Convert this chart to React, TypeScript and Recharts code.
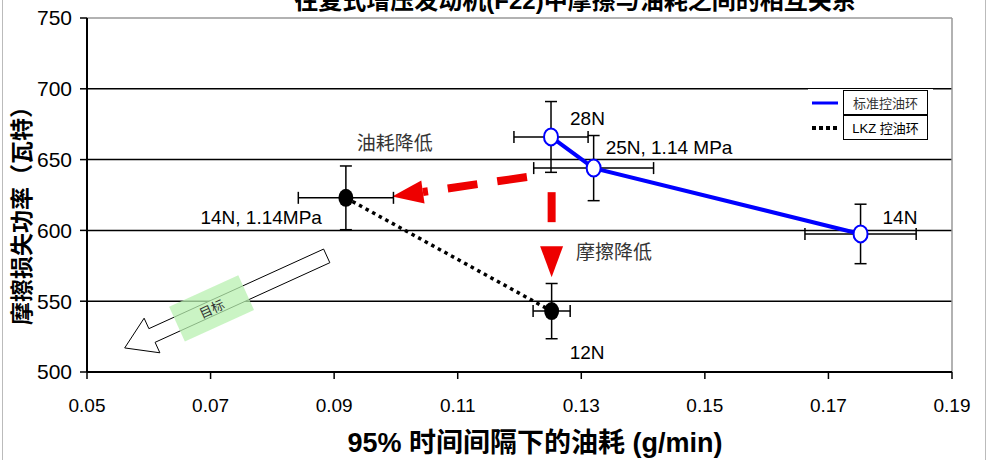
import {
  CartesianGrid,
  ErrorBar,
  Label,
  Legend,
  ReferenceDot,
  ReferenceLine,
  Scatter,
  ScatterChart,
  XAxis,
  YAxis,
} from 'recharts';

const TITLE = '往复式增压发动机(F22)中摩擦与油耗之间的相互关系';
const X_LABEL = '95% 时间间隔下的油耗 (g/min)';
const Y_LABEL = '摩擦损失功率（瓦特）';

const xTicks = [0.05, 0.07, 0.09, 0.11, 0.13, 0.15, 0.17, 0.19];
const yTicks = [500, 550, 600, 650, 700, 750];

// 标准控油环
const stdX = [0.1251, 0.132, 0.1752];
const stdY = [666, 644, 597.5];
const stdXErr = [0.006, 0.0097, 0.009];
const stdYErr = [25, 23, 21];
const stdNames = ['28N', '25N, 1.14 MPa', '14N'];

// LKZ 控油环
const lkzX = [0.0919, 0.1252];
const lkzY = [623, 543];
const lkzXErr = [0.0077, 0.003];
const lkzYErr = [22.5, 19.5];
const lkzNames = ['14N, 1.14MPa', '12N'];

// annotation arrows (data coords)
const oilArrow = [
  { x: 0.1212, y: 637.7 },
  { x: 0.0994, y: 624 },
];
const frictionArrow = [
  { x: 0.1252, y: 627 },
  { x: 0.1252, y: 567 },
];
const targetArrow = [
  { x: 0.0888, y: 582 },
  { x: 0.0561, y: 517 },
];
const notes = [
  { x: 0.0998, y: 661.7, text: '油耗降低' },
  { x: 0.1353, y: 584.7, text: '摩擦降低' },
];

const std = stdX.map((x, i) => ({ x, y: stdY[i], ex: stdXErr[i], ey: stdYErr[i], name: stdNames[i] }));
const lkz = lkzX.map((x, i) => ({ x, y: lkzY[i], ex: lkzXErr[i], ey: lkzYErr[i], name: lkzNames[i] }));

const FONT = '"Liberation Sans", Arial, "Noto Sans CJK SC", sans-serif';

// where each point label sits relative to its marker
const labelPos: Record<string, { dx: number; dy: number; anchor: 'start' | 'end' }> = {
  '28N': { dx: 19, dy: -18, anchor: 'start' },
  '25N, 1.14 MPa': { dx: 12, dy: -21, anchor: 'start' },
  '14N': { dx: 22, dy: -16, anchor: 'start' },
  '14N, 1.14MPa': { dx: -24, dy: 20, anchor: 'end' },
  '12N': { dx: 18, dy: 41, anchor: 'start' },
};

function PointLabel({ cx, cy, name }: { cx: number; cy: number; name: string }) {
  const p = labelPos[name];
  return (
    <text x={cx + p.dx} y={cy + p.dy} textAnchor={p.anchor} dominantBaseline="central" fontSize={19} fontFamily={FONT} fill="#000">
      {name}
    </text>
  );
}

function OpenDot(props: any) {
  const { cx, cy, payload } = props;
  return (
    <g>
      <ellipse cx={cx} cy={cy} rx={7} ry={8.5} fill="#fff" stroke="#0000ff" strokeWidth={2} />
      <PointLabel cx={cx} cy={cy} name={payload.name} />
    </g>
  );
}

function FilledDot(props: any) {
  const { cx, cy, payload } = props;
  return (
    <g>
      <ellipse cx={cx} cy={cy} rx={7.5} ry={9} fill="#000" />
      <PointLabel cx={cx} cy={cy} name={payload.name} />
    </g>
  );
}

function redArrow(dash: string) {
  return (props: any) => {
    const { x1, y1, x2, y2 } = props;
    const len = Math.hypot(x2 - x1, y2 - y1);
    const ux = (x2 - x1) / len;
    const uy = (y2 - y1) / len;
    const head = 31;
    const half = 11.5;
    const bx = x2 - ux * head;
    const by = y2 - uy * head;
    const pts = `${x2},${y2} ${bx - uy * half},${by + ux * half} ${bx + uy * half},${by - ux * half}`;
    return (
      <g>
        <line x1={x1} y1={y1} x2={bx} y2={by} stroke="#ee0000" strokeWidth={8} strokeDasharray={dash} />
        <polygon points={pts} fill="#ee0000" />
      </g>
    );
  };
}

function hollowArrow(props: any) {
  const { x1, y1, x2, y2 } = props;
  const len = Math.hypot(x2 - x1, y2 - y1);
  const ux = (x2 - x1) / len;
  const uy = (y2 - y1) / len;
  const nx = -uy;
  const ny = ux;
  const head = 30;
  const shaft = 7.5;
  const wing = 19;
  const bx = x2 - ux * head;
  const by = y2 - uy * head;
  const p = (x: number, y: number) => `${x},${y}`;
  const pts = [
    p(x1 + nx * shaft, y1 + ny * shaft),
    p(bx + nx * shaft, by + ny * shaft),
    p(bx + nx * wing, by + ny * wing),
    p(x2, y2),
    p(bx - nx * wing, by - ny * wing),
    p(bx - nx * shaft, by - ny * shaft),
    p(x1 - nx * shaft, y1 - ny * shaft),
  ].join(' ');
  const mx = x1 + (x2 - x1) * 0.57;
  const my = y1 + (y2 - y1) * 0.57;
  const angle = (Math.atan2(y1 - y2, x1 - x2) * 180) / Math.PI;
  return (
    <g>
      <polygon points={pts} fill="#fff" stroke="#000" strokeWidth={1} />
      <g transform={`translate(${mx},${my}) rotate(${angle})`}>
        <rect x={-38} y={-19} width={76} height={38} fill="#b8f0b0" opacity={0.75} />
        <text x={0} y={1} textAnchor="middle" dominantBaseline="central" fontSize={13} fontFamily={FONT} fill="#333">
          目标
        </text>
      </g>
    </g>
  );
}

function NoteText(text: string) {
  return (props: any) => (
    <text x={props.cx} y={props.cy} textAnchor="middle" dominantBaseline="central" fontSize={19} fontFamily={FONT} fill="#333">
      {text}
    </text>
  );
}

function LegendBox() {
  const row = (label: string, marker: React.ReactNode, color: string) => (
    <div style={{ display: 'flex', alignItems: 'center', height: 25 }}>
      <svg width={35} height={25}>{marker}</svg>
      <div
        style={{
          width: 83,
          height: 23,
          border: '1px solid #000',
          marginTop: -1,
          display: 'flex',
          alignItems: 'center',
          justifyContent: 'center',
          fontSize: 13,
          color,
          fontFamily: FONT,
        }}
      >
        {label}
      </div>
    </div>
  );
  return (
    <div style={{ background: '#fff', paddingTop: 1 }}>
      {row('标准控油环', <line x1={4} y1={13} x2={30} y2={13} stroke="#0000ff" strokeWidth={3} />, '#333')}
      {row('LKZ 控油环', <line x1={4} y1={13} x2={30} y2={13} stroke="#000" strokeWidth={4} strokeDasharray="4 3" />, '#000')}
    </div>
  );
}

export default function App() {
  return (
    <div style={{ position: 'absolute', left: 0, top: 0, width: 993, height: 460, background: '#fff', overflow: 'hidden' }}>
      <div
        style={{
          position: 'absolute',
          left: 0,
          width: 1150,
          top: -19,
          textAlign: 'center',
          fontSize: 24,
          fontWeight: 'bold',
          fontFamily: FONT,
          whiteSpace: 'nowrap',
        }}
      >
        {TITLE}
      </div>
      <ScatterChart width={993} height={460} margin={{ top: 18, right: 41, bottom: 0, left: 0 }}>
        <CartesianGrid vertical={false} horizontalValues={[550, 600, 650, 700]} stroke="#000" strokeWidth={1.5} />
        <ReferenceLine y={750} stroke="#999" strokeWidth={1.5} />
        <ReferenceLine x={0.19} stroke="#999" strokeWidth={1.5} />
        <XAxis
          type="number"
          dataKey="x"
          domain={[0.05, 0.19]}
          ticks={xTicks}
          tickFormatter={(v) => v.toFixed(2)}
          height={88}
          tickSize={7}
          tickMargin={20}
          axisLine={{ stroke: '#000', strokeWidth: 2 }}
          tickLine={{ stroke: '#000', strokeWidth: 1.5 }}
          tick={{ fill: '#000', fontSize: 19, fontFamily: FONT }}
          allowDataOverflow
        >
          <Label
            content={() => (
              <text x={535} y={443} textAnchor="middle" dominantBaseline="central" fontSize={27} fontWeight="bold" fontFamily={FONT} fill="#000">
                {X_LABEL}
              </text>
            )}
          />
        </XAxis>
        <YAxis
          type="number"
          dataKey="y"
          domain={[500, 750]}
          ticks={yTicks}
          width={87}
          tickSize={7}
          tickMargin={8}
          axisLine={{ stroke: '#000', strokeWidth: 2 }}
          tickLine={{ stroke: '#000', strokeWidth: 1.5 }}
          tick={{ fill: '#000', fontSize: 21, fontFamily: FONT }}
          allowDataOverflow
        >
          <Label
            content={() => (
              <text
                x={22}
                y={210}
                transform="rotate(-90 22 210)"
                textAnchor="middle"
                dominantBaseline="central"
                fontSize={23}
                fontWeight="bold"
                fontFamily={FONT}
                fill="#000"
              >
                {Y_LABEL}
              </text>
            )}
          />
        </YAxis>
        <ReferenceLine segment={targetArrow} shape={hollowArrow} />
        <ReferenceLine segment={oilArrow} shape={redArrow('30 20')} />
        <ReferenceLine segment={frictionArrow} shape={redArrow('30 25')} />
        {notes.map((n) => (
          <ReferenceDot key={n.text} x={n.x} y={n.y} r={0} shape={NoteText(n.text)} />
        ))}
        <Scatter
          name="LKZ 控油环"
          data={lkz}
          line={{ stroke: '#000', strokeWidth: 3.5, strokeDasharray: '3.5 4' }}
          shape={FilledDot}
          isAnimationActive={false}
        >
          <ErrorBar dataKey="ex" direction="x" width={6} stroke="#000" strokeWidth={1.5} />
          <ErrorBar dataKey="ey" direction="y" width={6} stroke="#000" strokeWidth={1.5} />
        </Scatter>
        <Scatter
          name="标准控油环"
          data={std}
          line={{ stroke: '#0000ff', strokeWidth: 4 }}
          shape={OpenDot}
          isAnimationActive={false}
        >
          <ErrorBar dataKey="ex" direction="x" width={6} stroke="#000" strokeWidth={1.5} />
          <ErrorBar dataKey="ey" direction="y" width={6} stroke="#000" strokeWidth={1.5} />
        </Scatter>
        <Legend
          layout="vertical"
          align="center"
          verticalAlign="middle"
          content={() => <LegendBox />}
          wrapperStyle={{ left: 808, top: 89, width: 125 }}
        />
      </ScatterChart>
      <div style={{ position: 'absolute', left: 2, top: 0, width: 1, height: 460, background: '#bbb' }} />
      <div style={{ position: 'absolute', left: 985, top: 0, width: 1, height: 460, background: '#bbb' }} />
    </div>
  );
}
